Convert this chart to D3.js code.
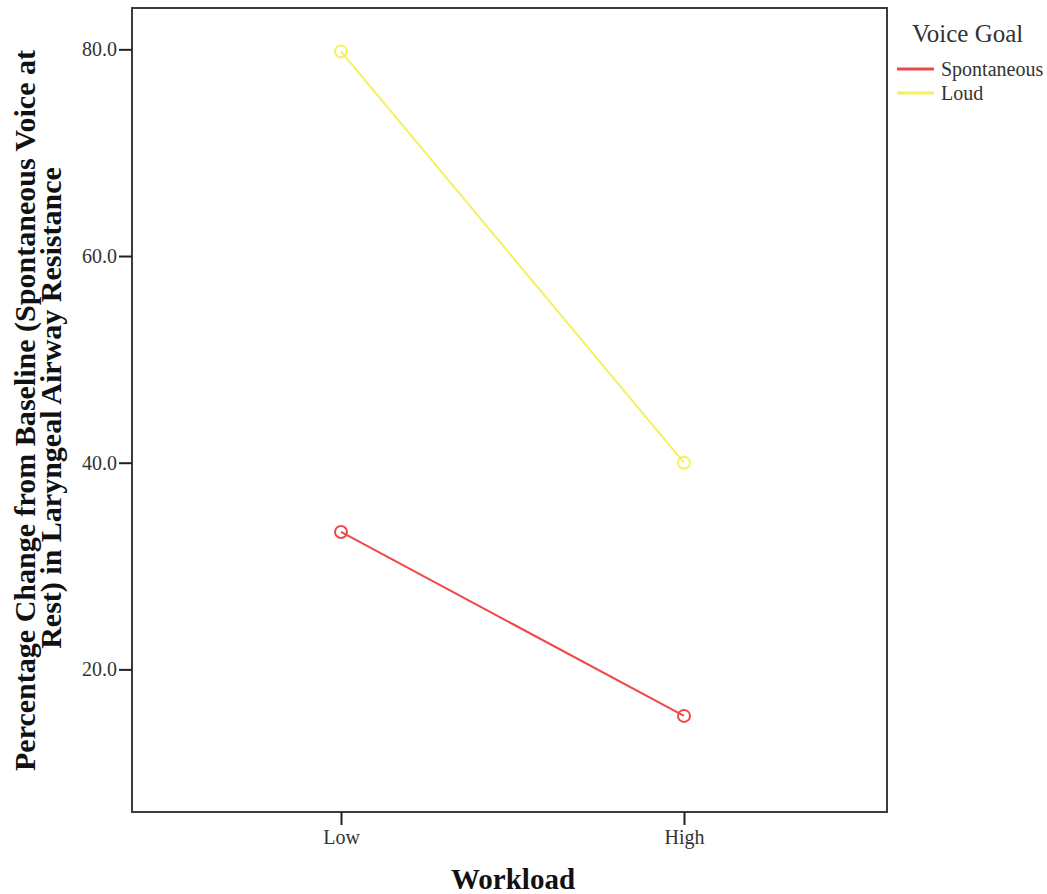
<!DOCTYPE html>
<html>
<head>
<meta charset="utf-8">
<script src="https://cdn.jsdelivr.net/npm/d3@7"></script>
<style>
  html, body { margin: 0; padding: 0; background: #fff; }
  svg { display: block; }
  text { font-family: "Liberation Serif", "Times New Roman", serif; }
</style>
</head>
<body>
<svg id="chart" width="1047" height="894"></svg>
<script>
// ---- data ----
const categories = ["Low", "High"];
const seriesNames = ["Spontaneous", "Loud"];
const spontaneousValues = [33.3, 15.5];
const loudValues = [79.8, 40.0];
const yTickValues = [20, 40, 60, 80];
const seriesColors = ["#f04848", "#f6ef5e"];
const xTitle = "Workload";
const yTitleLines = ["Percentage Change from Baseline (Spontaneous Voice at", "Rest) in Laryngeal Airway Resistance"];
const legendTitle = "Voice Goal";

const series = [
  { name: seriesNames[0], values: spontaneousValues, color: seriesColors[0] },
  { name: seriesNames[1], values: loudValues, color: seriesColors[1] }
];

const svg = d3.select("#chart");
const plot = { left: 132, right: 887, top: 8, bottom: 812 };

const x = d3.scalePoint().domain(categories).range([341, 684]);
const y = d3.scaleLinear().domain([6.2, 84]).range([plot.bottom, plot.top]);

// frame
svg.append("rect")
  .attr("x", plot.left).attr("y", plot.top)
  .attr("width", plot.right - plot.left).attr("height", plot.bottom - plot.top)
  .attr("fill", "none").attr("stroke", "#3c3c3c").attr("stroke-width", 2);

// y axis
const yAxis = svg.append("g")
  .attr("transform", `translate(${plot.left},0)`)
  .call(d3.axisLeft(y).tickValues(yTickValues).tickFormat(d3.format(".1f")).tickSize(13).tickPadding(2));
yAxis.select(".domain").remove();
yAxis.selectAll(".tick line").attr("stroke", "#222").attr("stroke-width", 2);
yAxis.selectAll(".tick text")
  .attr("font-family", "Liberation Serif, serif")
  .attr("font-size", 20).attr("fill", "#333");

// x axis
const xAxis = svg.append("g")
  .attr("transform", `translate(0,${plot.bottom})`)
  .call(d3.axisBottom(x).tickSize(13).tickPadding(5));
xAxis.select(".domain").remove();
xAxis.selectAll(".tick line").attr("stroke", "#222").attr("stroke-width", 2);
xAxis.selectAll(".tick text")
  .attr("font-family", "Liberation Serif, serif")
  .attr("font-size", 20).attr("fill", "#333");

// axis titles
svg.append("text")
  .attr("x", 513).attr("y", 889)
  .attr("text-anchor", "middle")
  .attr("font-size", 29).attr("font-weight", "bold").attr("fill", "#111")
  .text(xTitle);

svg.append("text")
  .attr("transform", "translate(35,410.5) rotate(-90)")
  .attr("text-anchor", "middle")
  .attr("font-size", 30).attr("font-weight", "bold").attr("fill", "#111")
  .attr("textLength", 721).attr("lengthAdjust", "spacingAndGlyphs")
  .text(yTitleLines[0]);

svg.append("text")
  .attr("transform", "translate(61,408) rotate(-90)")
  .attr("text-anchor", "middle")
  .attr("font-size", 30).attr("font-weight", "bold").attr("fill", "#111")
  .text(yTitleLines[1]);

// lines and markers
const line = d3.line().x((d, i) => x(categories[i])).y(d => y(d));
series.forEach(s => {
  svg.append("path")
    .attr("d", line(s.values))
    .attr("fill", "none").attr("stroke", s.color).attr("stroke-width", 2);
  svg.selectAll(null).data(s.values).enter().append("circle")
    .attr("cx", (d, i) => x(categories[i]))
    .attr("cy", d => y(d))
    .attr("r", 6)
    .attr("fill", "none").attr("stroke", s.color).attr("stroke-width", 2);
});

// legend
svg.append("text")
  .attr("x", 912).attr("y", 42)
  .attr("font-size", 25).attr("fill", "#333")
  .text(legendTitle);

const legend = svg.append("g");
series.forEach((s, i) => {
  const ly = 69 + i * 24;
  legend.append("line")
    .attr("x1", 897).attr("x2", 934).attr("y1", ly).attr("y2", ly)
    .attr("stroke", s.color).attr("stroke-width", 3);
  legend.append("text")
    .attr("x", 941).attr("y", ly + 7)
    .attr("font-size", 20).attr("fill", "#333")
    .text(s.name);
});
</script>
</body>
</html>
